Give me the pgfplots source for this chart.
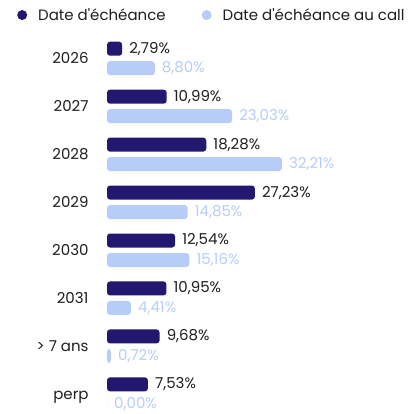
\documentclass[border=0pt]{standalone}
\usepackage{pgfplots}
\pgfplotsset{compat=1.18}
\usepackage{pgfplotstable}
\usepackage{fontspec}
\setmainfont{Poppins}
\definecolor{navy}{HTML}{22186F}
\definecolor{lightb}{HTML}{B7CDF8}
\definecolor{txt}{HTML}{1E1E1E}

\pgfplotstableread{
c v lab
0 2.79 2,79
1 10.99 10,99
2 18.28 18,28
3 27.23 27,23
4 12.54 12,54
5 10.95 10,95
6 9.68 9,68
7 7.53 7,53
}\darkdata
\pgfplotstableread{
c v lab
0 8.80 8,80
1 23.03 23,03
2 32.21 32,21
3 14.85 14,85
4 15.16 15,16
5 4.41 4,41
6 0.72 0,72
7 0.00 0,00
}\lightdata

\begin{document}
\begin{tikzpicture}[x=1pt,y=1pt]
\path[use as bounding box] (0,0) rectangle (411,414);
\begin{axis}[
  at={(107pt,379.5pt)}, anchor=north west,
  scale only axis, width=217.2pt, height=374pt,
  xmin=0, xmax=40, ymin=-0.5, ymax=7.3, y dir=reverse,
  axis line style={draw=none}, tick style={draw=none},
  xtick=\empty, ytick={0,...,7},
  yticklabels={2026,2027,2028,2029,2030,2031,{> 7 ans},perp},
  yticklabel style={anchor=east, inner sep=0pt, xshift=-14pt, text height=10.5pt, text depth=0pt,
    font=\fontsize{15}{15}\selectfont, text=txt},
  xbar, bar width=14pt, clip=false,
  point meta=explicit symbolic,
  nodes near coords={\pgfplotspointmeta\%},
  every node near coord/.append style={anchor=west, inner sep=0pt, xshift=7pt, font=\fontsize{15}{15}\selectfont},
  legend columns=2,
  legend style={at={(axis description cs:-0.4144,1.052)}, anchor=west, draw=none, fill=none,
    inner sep=0pt, column sep=11pt, nodes={inner sep=0pt, text=txt}, font=\fontsize{15}{15}\selectfont,
    /tikz/every even column/.append style={column sep=36pt}},
]
\addplot[fill=navy, draw=none, rounded corners=3pt, bar shift=9.75pt,
  every node near coord/.append style={text=txt},
  legend image code/.code={\fill[navy] (0pt,0pt) circle (5pt);}]
  table[x=v, y=c, meta=lab] {\darkdata};
\addplot[fill=lightb, draw=none, rounded corners=3pt, bar shift=-9.75pt,
  every node near coord/.append style={text=lightb},
  legend image code/.code={\fill[lightb] (0pt,0pt) circle (5pt);}]
  table[x=v, y=c, meta=lab] {\lightdata};
\legend{Date d\textquotesingle échéance, Date d\textquotesingle échéance au call}
\end{axis}
\end{tikzpicture}
\end{document}
